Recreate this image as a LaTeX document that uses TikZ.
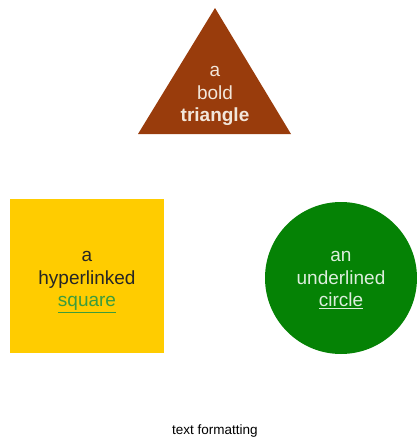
\documentclass[tikz,border=0pt]{standalone}
\usepackage{fontspec}
\setmainfont{Liberation Sans}
\definecolor{tribrown}{HTML}{993C0C}
\definecolor{sqyellow}{HTML}{FFCC00}
\definecolor{circgreen}{HTML}{058205}
\definecolor{linkgreen}{HTML}{3C9C3C}
\definecolor{lighttxt}{HTML}{F2E6DA}
\definecolor{lightgreen}{HTML}{DDEEDD}
\begin{document}
\begin{tikzpicture}[x=1pt,y=-1pt,
  lbl/.style={align=center,inner sep=0pt,font=\fontsize{19}{22.5}\selectfont},
  captext/.style={inner sep=0pt,font=\fontsize{13.5}{16}\selectfont}]
\useasboundingbox (0,0) rectangle (416,440);
% triangle
\fill[tribrown] (215,8) -- (291,134) -- (138,134) -- cycle;
\node[lbl,text=lighttxt] (tri) at (215,96) {a\\bold\\\textbf{triangle}};
% square
\node[fill=sqyellow,minimum width=154pt,minimum height=154pt,inner sep=0pt] (sq) at (87,276) {};
\node[lbl,text=black!85] (sqt) at (87,282) {a\\hyperlinked\\\textcolor{linkgreen}{\underline{square}}};
% circle
\node[circle,fill=circgreen,minimum size=152pt,inner sep=0pt] (ci) at (341,278) {};
\node[lbl,text=lightgreen] (cit) at (341,280) {an\\underlined\\\underline{circle}};
% caption
\node[captext,anchor=base] (capt) at (215,434) {text formatting};
\end{tikzpicture}
\end{document}
